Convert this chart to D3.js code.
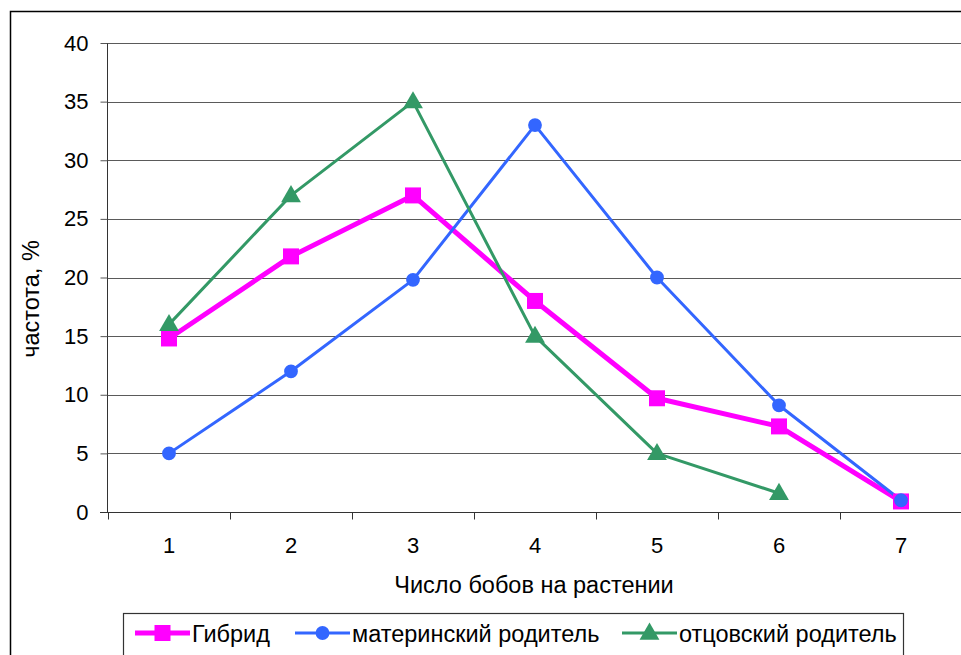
<!DOCTYPE html>
<html><head><meta charset="utf-8">
<script src="https://cdn.jsdelivr.net/npm/d3@7"></script>
<style>body{margin:0;background:#fff}svg{display:block;font-family:"Liberation Sans",Arial,sans-serif}</style>
</head><body>
<svg id="c" width="961" height="655"></svg>
<script>
const categories = [1, 2, 3, 4, 5, 6, 7];
const hybrid = [14.8, 21.8, 27, 18, 9.7, 7.3, 0.9];
const maternal = [5, 12, 19.8, 33, 20, 9.1, 1];
const paternal = [16, 27, 35, 15, 5, 1.6, null];
const yTicks = [0, 5, 10, 15, 20, 25, 30, 35, 40];
const seriesNames = ["Гибрид", "материнский родитель", "отцовский родитель"];

const svg = d3.select("#c");
const plotLeft = 108, plotRight = 962, plotTop = 43, plotBottom = 512;

// outer frame
svg.append("rect").attr("x", 10.5).attr("y", 11.5).attr("width", 980).attr("height", 700)
  .attr("fill", "#fff").attr("stroke", "#000").attr("stroke-width", 1.5);

const x = d3.scaleBand().domain(categories).range([plotLeft, plotRight]);
const y = d3.scaleLinear().domain([0, 40]).range([plotBottom, plotTop]);
const cx = d => x(d) + x.bandwidth() / 2;

// horizontal gridlines
svg.append("g").selectAll("line").data(yTicks.filter(d => d > 0)).join("line")
  .attr("x1", plotLeft).attr("x2", plotRight)
  .attr("y1", d => Math.round(y(d)) + 0.5).attr("y2", d => Math.round(y(d)) + 0.5)
  .attr("stroke", "#5a5a5a").attr("stroke-width", 1.2);

// y axis
const ya = svg.append("g").attr("transform", `translate(${plotLeft - 0.5},0)`)
  .call(d3.axisLeft(y).tickValues(yTicks).tickSize(7).tickPadding(12));
ya.select(".domain").attr("stroke", "#333").attr("d", `M0,${plotTop}V${plotBottom}`);
ya.selectAll(".tick line").attr("stroke", "#555");
ya.selectAll("text").attr("font-size", 22).attr("fill", "#000").attr("font-family", "Liberation Sans, Arial, sans-serif");

// x axis with ticks between categories
const xa = svg.append("g").attr("transform", `translate(0,${plotBottom + 0.5})`);
xa.append("line").attr("x1", plotLeft - 8).attr("x2", plotRight).attr("stroke", "#333").attr("stroke-width", 1.2);
const bounds = categories.map(c => x(c)).concat([plotRight]);
xa.selectAll(".tk").data(bounds).join("line").attr("class", "tk")
  .attr("x1", d => Math.round(d) + 0.5).attr("x2", d => Math.round(d) + 0.5)
  .attr("y1", 0).attr("y2", 7).attr("stroke", "#333");
xa.selectAll("text").data(categories).join("text")
  .attr("x", d => cx(d)).attr("y", 40).attr("text-anchor", "middle")
  .attr("font-size", 22).text(d => d);

// axis titles
svg.append("text").attr("x", 534).attr("y", 593).attr("text-anchor", "middle")
  .attr("font-size", 23.5).text("Число бобов на растении");
svg.append("text").attr("transform", "translate(39,299) rotate(-90)").attr("text-anchor", "middle")
  .attr("font-size", 23.5).text("частота, %");

// series
const series = [
  {name: seriesNames[0], values: hybrid, color: "#ff00ff", width: 5, shape: "square"},
  {name: seriesNames[1], values: maternal, color: "#3366ff", width: 3, shape: "circle"},
  {name: seriesNames[2], values: paternal, color: "#339966", width: 3, shape: "triangle"}
];
const symbolOf = s => s === "square" ? d3.symbolSquare : s === "circle" ? d3.symbolCircle : d3.symbolTriangle;
const sizeOf = s => s === "square" ? 256 : s === "circle" ? 150 : 170;

series.forEach(s => {
  const pts = categories.map((c, i) => ({c, v: s.values[i]}));
  svg.append("path").datum(pts)
    .attr("d", d3.line().defined(d => d.v != null).x(d => cx(d.c)).y(d => y(d.v)))
    .attr("fill", "none").attr("stroke", s.color).attr("stroke-width", s.width).attr("stroke-linejoin", "round");
});
series.forEach(s => {
  const pts = categories.map((c, i) => ({c, v: s.values[i]})).filter(d => d.v != null);
  svg.append("g").selectAll("path").data(pts).join("path")
    .attr("transform", d => `translate(${cx(d.c)},${y(d.v) + (s.shape === "triangle" ? 1 : 0)})`)
    .attr("d", d3.symbol().type(symbolOf(s.shape)).size(sizeOf(s.shape)))
    .attr("fill", s.color);
});

// legend
const lg = svg.append("g");
lg.append("rect").attr("x", 123.5).attr("y", 613.5).attr("width", 780).attr("height", 60)
  .attr("fill", "#fff").attr("stroke", "#333").attr("stroke-width", 1.2);
const legendX = [135, 295, 622];
series.forEach((s, i) => {
  const g = lg.append("g").attr("transform", `translate(${legendX[i]},633)`);
  g.append("line").attr("x1", 0).attr("x2", 55).attr("stroke", s.color).attr("stroke-width", s.width);
  g.append("path").attr("transform", `translate(27.5,${s.shape === "triangle" ? 1 : 0})`)
    .attr("d", d3.symbol().type(symbolOf(s.shape)).size(sizeOf(s.shape))).attr("fill", s.color);
  g.append("text").attr("x", 57).attr("y", 9).attr("font-size", 23.5).text(s.name);
});
</script>
</body></html>
